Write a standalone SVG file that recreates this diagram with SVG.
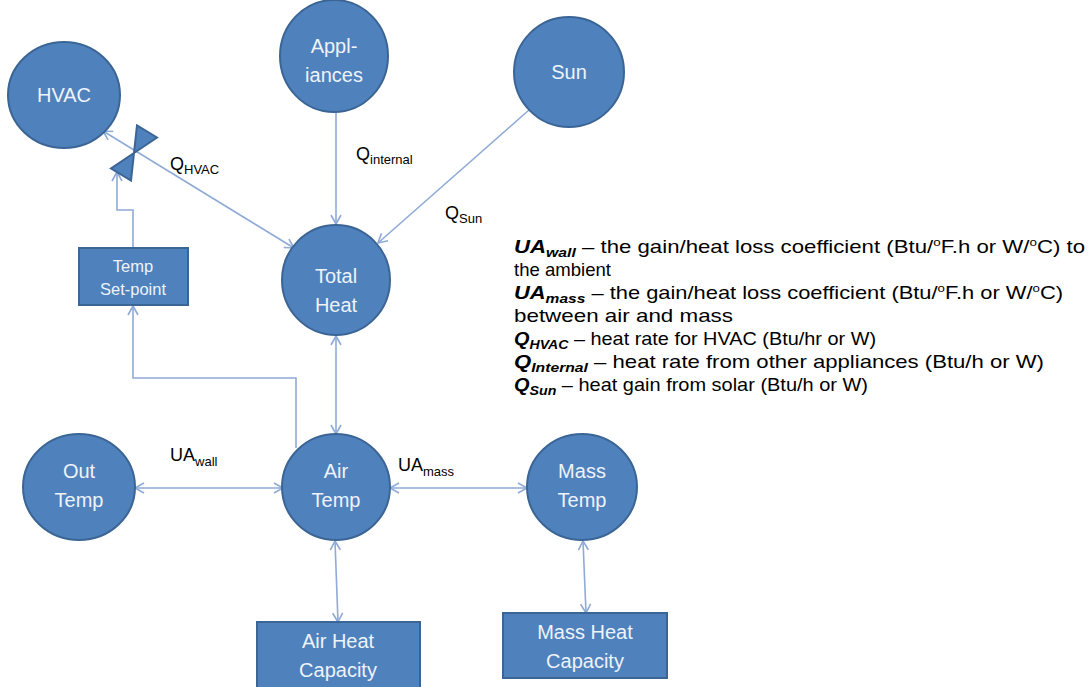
<svg xmlns="http://www.w3.org/2000/svg" width="1092" height="687" viewBox="0 0 1092 687">
<defs>
<marker id="arr" markerUnits="userSpaceOnUse" markerWidth="12" markerHeight="12" refX="10" refY="6" orient="auto-start-reverse" viewBox="0 0 12 12">
<path d="M1,1 L10,6 L1,11" fill="none" stroke="#8eaad6" stroke-width="1.6"/>
</marker>
</defs>
<style>
.n{fill:#4f81bd;stroke:#3b6595;stroke-width:2}
.nt{font-family:"Liberation Sans",Arial,sans-serif;font-size:20px;fill:#eef3fa;text-anchor:middle}
.st{font-family:"Liberation Sans",Arial,sans-serif;font-size:16.5px;fill:#eef3fa;text-anchor:middle}
.c{fill:none;stroke:#8eaad6;stroke-width:1.6}
.lb{font-family:"Liberation Sans",Arial,sans-serif;font-size:18px;fill:#000}
.sb{font-size:13px}
.tx{font-family:"Liberation Sans",Arial,sans-serif;font-size:19px;fill:#000}
.bi{font-weight:bold;font-style:italic}
.bs{font-weight:bold;font-style:italic;font-size:13.5px}
.sup{font-size:11.5px}
</style>
<rect width="1092" height="687" fill="#ffffff"/>

<g id="connectors">
<path class="c" d="M336,112 L336,224" marker-end="url(#arr)"/>
<path class="c" d="M529,110 L378,243" marker-end="url(#arr)"/>
<path class="c" d="M103,131 L294,248" marker-start="url(#arr)" marker-end="url(#arr)"/>
<path class="c" d="M133,248 L133,210 L117,210 L117,172" marker-end="url(#arr)"/>
<path class="c" d="M296,448 L296,378 L133,378 L133,306" marker-end="url(#arr)"/>
<path class="c" d="M336,336 L336,434" marker-start="url(#arr)" marker-end="url(#arr)"/>
<path class="c" d="M135,488 L283,488" marker-start="url(#arr)" marker-end="url(#arr)"/>
<path class="c" d="M390,488 L527,488" marker-start="url(#arr)" marker-end="url(#arr)"/>
<path class="c" d="M335,541 L338,622" marker-start="url(#arr)" marker-end="url(#arr)"/>
<path class="c" d="M583,541 L586,613" marker-start="url(#arr)" marker-end="url(#arr)"/>
</g>

<g id="valve">
<path class="n" stroke-width="1.5" d="M134,153 L157,137.5 L137,125.5 Z M134,153 L131,180.5 L111,168.5 Z"/>
</g>

<g id="hvac">
<ellipse class="n" cx="64" cy="95" rx="56" ry="53"/>
<text class="nt" x="64" y="102">HVAC</text>
</g>
<g id="appliances">
<ellipse class="n" cx="334" cy="56" rx="54" ry="56"/>
<text class="nt" x="334" y="53">Appl-</text>
<text class="nt" x="334" y="82">iances</text>
</g>
<g id="sun">
<ellipse class="n" cx="569" cy="72" rx="55" ry="55"/>
<text class="nt" x="569" y="79">Sun</text>
</g>
<g id="total-heat">
<ellipse class="n" cx="336" cy="280" rx="54" ry="55"/>
<text class="nt" x="336" y="283">Total</text>
<text class="nt" x="336" y="312">Heat</text>
</g>
<g id="temp-setpoint">
<rect class="n" x="79" y="248" width="109" height="57"/>
<text class="st" x="133" y="272">Temp</text>
<text class="st" x="133" y="295">Set-point</text>
</g>
<g id="out-temp">
<ellipse class="n" cx="79" cy="487" rx="56" ry="53"/>
<text class="nt" x="79" y="478">Out</text>
<text class="nt" x="79" y="507">Temp</text>
</g>
<g id="air-temp">
<ellipse class="n" cx="336" cy="487" rx="54" ry="53"/>
<text class="nt" x="336" y="478">Air</text>
<text class="nt" x="336" y="507">Temp</text>
</g>
<g id="mass-temp">
<ellipse class="n" cx="582" cy="487" rx="55" ry="53"/>
<text class="nt" x="582" y="478">Mass</text>
<text class="nt" x="582" y="507">Temp</text>
</g>
<g id="air-heat-capacity">
<rect class="n" x="257" y="622" width="163" height="70"/>
<text class="nt" x="338" y="648">Air Heat</text>
<text class="nt" x="338" y="677">Capacity</text>
</g>
<g id="mass-heat-capacity">
<rect class="n" x="503" y="613" width="164" height="65"/>
<text class="nt" x="585" y="639">Mass Heat</text>
<text class="nt" x="585" y="668">Capacity</text>
</g>

<g id="labels">
<text class="lb" x="170" y="170">Q<tspan class="sb" dy="4">HVAC</tspan></text>
<text class="lb" x="356" y="160">Q<tspan class="sb" dy="4">internal</tspan></text>
<text class="lb" x="445" y="219">Q<tspan class="sb" dy="4">Sun</tspan></text>
<text class="lb" x="170" y="461">UA<tspan class="sb" dy="5">wall</tspan></text>
<text class="lb" x="398" y="471">UA<tspan class="sb" dy="5">mass</tspan></text>
</g>

<g id="legend">
<text class="tx" x="514" y="253" textLength="571" lengthAdjust="spacingAndGlyphs"><tspan class="bi">UA</tspan><tspan class="bs" dy="4">wall</tspan><tspan dy="-4"> – the gain/heat loss coefficient (Btu/</tspan><tspan class="sup" dy="-7">o</tspan><tspan dy="7">F.h or W/</tspan><tspan class="sup" dy="-7">o</tspan><tspan dy="7">C) to</tspan></text>
<text class="tx" x="514" y="276" textLength="97" lengthAdjust="spacingAndGlyphs">the ambient</text>
<text class="tx" x="514" y="299" textLength="549" lengthAdjust="spacingAndGlyphs"><tspan class="bi">UA</tspan><tspan class="bs" dy="4">mass</tspan><tspan dy="-4"> – the gain/heat loss coefficient (Btu/</tspan><tspan class="sup" dy="-7">o</tspan><tspan dy="7">F.h or W/</tspan><tspan class="sup" dy="-7">o</tspan><tspan dy="7">C)</tspan></text>
<text class="tx" x="514" y="322" textLength="219" lengthAdjust="spacingAndGlyphs">between air and mass</text>
<text class="tx" x="514" y="345" textLength="362" lengthAdjust="spacingAndGlyphs"><tspan class="bi">Q</tspan><tspan class="bs" dy="4">HVAC</tspan><tspan dy="-4"> – heat rate for HVAC (Btu/hr or W)</tspan></text>
<text class="tx" x="514" y="368" textLength="530" lengthAdjust="spacingAndGlyphs"><tspan class="bi">Q</tspan><tspan class="bs" dy="4">Internal</tspan><tspan dy="-4"> – heat rate from other appliances (Btu/h or W)</tspan></text>
<text class="tx" x="514" y="391" textLength="354" lengthAdjust="spacingAndGlyphs"><tspan class="bi">Q</tspan><tspan class="bs" dy="4">Sun</tspan><tspan dy="-4"> – heat gain from solar (Btu/h or W)</tspan></text>
</g>
</svg>
